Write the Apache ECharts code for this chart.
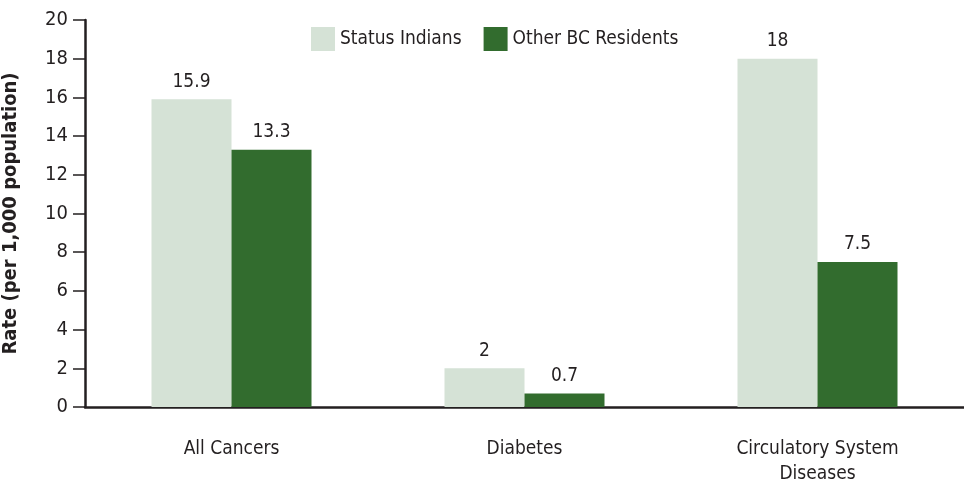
<!DOCTYPE html>
<html>
<head>
<meta charset="utf-8">
<script src="https://cdn.jsdelivr.net/npm/echarts@6/dist/echarts.min.js"></script>
<style>
  html, body { margin: 0; padding: 0; background: #fff; }
  #chart { width: 964px; height: 488px; }
</style>
</head>
<body>
<div id="chart"></div>
<script>
const categories = ['All Cancers', 'Diabetes', 'Circulatory System\nDiseases']
const statusIndians = [15.9, 2, 18]
const otherBC = [13.3, 0.7, 7.5]
const seriesNames = ['Status Indians', 'Other BC Residents']

const font = '"Liberation Sans Narrow", "DejaVu Sans Condensed", sans-serif'
const ink = '#231f20'

const chart = echarts.init(document.getElementById('chart'))

const barLabel = {
  show: true,
  position: 'top',
  distance: 8,
  color: ink,
  fontFamily: font,
  fontSize: 19
}

chart.setOption({
  animation: false,
  textStyle: { fontFamily: font },
  legend: {
    top: 22,
    left: 306,
    icon: 'rect',
    itemWidth: 24,
    itemHeight: 24,
    itemGap: 22,
    textStyle: { fontFamily: font, fontSize: 19, color: ink },
    data: seriesNames
  },
  grid: { left: 85, right: 0, top: 20, bottom: 81, containLabel: false, outerBoundsMode: 'none' },
  xAxis: {
    type: 'category',
    data: categories,
    axisLine: { lineStyle: { color: ink, width: 2.5 } },
    axisTick: { show: false },
    axisLabel: { color: ink, fontFamily: font, fontSize: 19, margin: 30, lineHeight: 25 }
  },
  yAxis: {
    type: 'value',
    min: 0,
    max: 20,
    interval: 2,
    name: 'Rate (per 1,000 population)',
    nameLocation: 'middle',
    nameGap: 64,
    nameTextStyle: { fontFamily: font, fontSize: 20, fontWeight: 'bold', color: ink },
    axisLine: { show: true, lineStyle: { color: ink, width: 2.5 } },
    axisTick: { show: true, length: 12, lineStyle: { color: ink, width: 1.5 } },
    axisLabel: { color: ink, fontFamily: font, fontSize: 20, margin: 17 },
    splitLine: { show: false }
  },
  series: [
    {
      name: seriesNames[0],
      type: 'bar',
      data: statusIndians,
      barWidth: 80,
      barGap: '0%',
      itemStyle: { color: '#d5e2d6' },
      label: barLabel
    },
    {
      name: seriesNames[1],
      type: 'bar',
      data: otherBC,
      barWidth: 80,
      itemStyle: { color: '#326c2e' },
      label: barLabel
    }
  ]
})
</script>
</body>
</html>
